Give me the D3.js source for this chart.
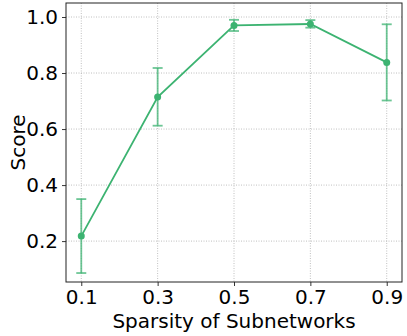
<!DOCTYPE html>
<html>
<head>
<meta charset="utf-8">
<script src="https://cdn.jsdelivr.net/npm/d3@7"></script>
<style>
  body { margin: 0; background: #fff; }
  text { font-family: "DejaVu Sans", sans-serif; }
</style>
</head>
<body>
<script>
// values
var sparsity = [0.1, 0.3, 0.5, 0.7, 0.9];
var score    = [0.218, 0.714, 0.970, 0.975, 0.838];
var errLow   = [0.086, 0.612, 0.950, 0.962, 0.702];
var errHigh  = [0.350, 0.818, 0.990, 0.989, 0.974];
var yTicks   = [0.2, 0.4, 0.6, 0.8, 1.0];

var width = 407, height = 336;
var margin = {top: 3, right: 5, bottom: 54, left: 66};
var color = "#3cb371";

var svg = d3.select("body").append("svg")
    .attr("width", width)
    .attr("height", height);

var x = d3.scaleLinear()
    .domain([0.06, 0.94])
    .range([margin.left, width - margin.right]);

var y = d3.scaleLinear()
    .domain([0.054, 1.05])
    .range([height - margin.bottom, margin.top]);

// grid
svg.append("g")
  .selectAll("line")
  .data(sparsity)
  .enter().append("line")
    .attr("x1", function(d) { return x(d); })
    .attr("x2", function(d) { return x(d); })
    .attr("y1", margin.top)
    .attr("y2", height - margin.bottom)
    .attr("stroke", "#b0b0b0")
    .attr("stroke-width", 0.8)
    .attr("stroke-dasharray", "1,1.5");

svg.append("g")
  .selectAll("line")
  .data(yTicks)
  .enter().append("line")
    .attr("x1", margin.left)
    .attr("x2", width - margin.right)
    .attr("y1", function(d) { return y(d); })
    .attr("y2", function(d) { return y(d); })
    .attr("stroke", "#b0b0b0")
    .attr("stroke-width", 0.8)
    .attr("stroke-dasharray", "1,1.5");

// axes
var xAxis = svg.append("g")
    .attr("transform", "translate(0," + (height - margin.bottom) + ")")
    .call(d3.axisBottom(x).tickValues(sparsity).tickFormat(d3.format(".1f")).tickSize(4).tickPadding(4));

var yAxis = svg.append("g")
    .attr("transform", "translate(" + margin.left + ",0)")
    .call(d3.axisLeft(y).tickValues(yTicks).tickFormat(d3.format(".1f")).tickSize(4).tickPadding(4));

[xAxis, yAxis].forEach(function(a) {
  a.select(".domain").remove();
  a.selectAll("text").attr("font-size", 20).attr("fill", "#000")
    .style("font-family", "DejaVu Sans, sans-serif");
  a.selectAll("line").attr("stroke", "#000").attr("stroke-width", 0.8);
});

// frame
svg.append("rect")
    .attr("x", margin.left)
    .attr("y", margin.top)
    .attr("width", width - margin.left - margin.right)
    .attr("height", height - margin.top - margin.bottom)
    .attr("fill", "none")
    .attr("stroke", "#222")
    .attr("stroke-width", 1);

// error bars
var eb = svg.append("g")
    .attr("stroke", color)
    .attr("stroke-opacity", 0.75)
    .attr("stroke-width", 1.8);

eb.selectAll(".vert")
  .data(sparsity)
  .enter().append("line")
    .attr("x1", function(d) { return x(d); })
    .attr("x2", function(d) { return x(d); })
    .attr("y1", function(d, i) { return y(errLow[i]); })
    .attr("y2", function(d, i) { return y(errHigh[i]); });

[errLow, errHigh].forEach(function(arr) {
  eb.append("g").selectAll("line")
    .data(sparsity)
    .enter().append("line")
      .attr("x1", function(d) { return x(d) - 5; })
      .attr("x2", function(d) { return x(d) + 5; })
      .attr("y1", function(d, i) { return y(arr[i]); })
      .attr("y2", function(d, i) { return y(arr[i]); });
});

// line
var line = d3.line()
    .x(function(d) { return x(d); })
    .y(function(d, i) { return y(score[i]); });

svg.append("path")
    .datum(sparsity)
    .attr("d", line)
    .attr("fill", "none")
    .attr("stroke", color)
    .attr("stroke-width", 1.8);

svg.append("g")
  .selectAll("circle")
  .data(sparsity)
  .enter().append("circle")
    .attr("cx", function(d) { return x(d); })
    .attr("cy", function(d, i) { return y(score[i]); })
    .attr("r", 3.5)
    .attr("fill", color);

// labels
svg.append("text")
    .attr("x", (margin.left + width - margin.right) / 2)
    .attr("y", 328)
    .attr("text-anchor", "middle")
    .attr("font-size", 20)
    .text("Sparsity of Subnetworks");

svg.append("text")
    .attr("transform", "translate(25," + ((margin.top + height - margin.bottom) / 2) + ") rotate(-90)")
    .attr("text-anchor", "middle")
    .attr("font-size", 20)
    .text("Score");
</script>
</body>
</html>
